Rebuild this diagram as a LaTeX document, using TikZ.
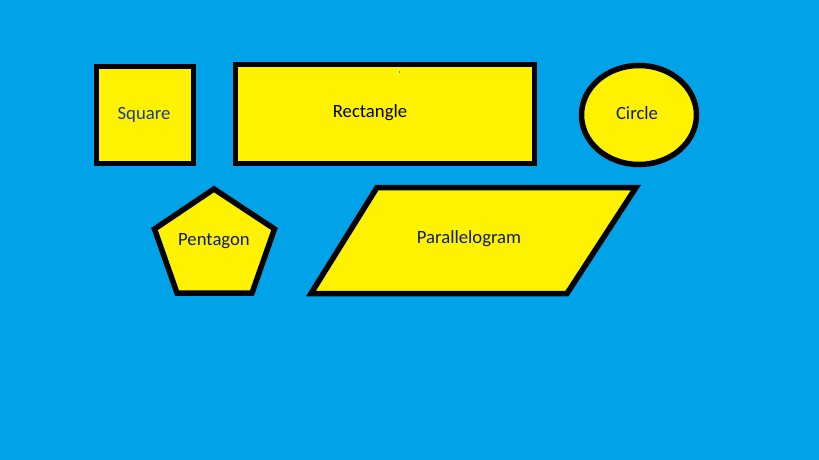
\documentclass[tikz,border=0pt]{standalone}
\usepackage{fontspec}
\setmainfont{Carlito}
\definecolor{bgblue}{HTML}{00A2E8}
\definecolor{shapeyellow}{HTML}{FFF200}
\definecolor{navytext}{HTML}{101C60}
\definecolor{sqtext}{HTML}{1A3A9C}
\begin{document}
\begin{tikzpicture}[x=1pt,y=-1pt,
  shapefill/.style={fill=shapeyellow,draw=black,line width=5.5pt,line join=miter},
  lbl/.style={inner sep=0pt,font=\fontsize{18.7}{22}\selectfont,text=navytext}]
\fill[bgblue] (0,0) rectangle (819,460);
\useasboundingbox (0,0) rectangle (819,460);
% square
\draw[shapefill] (96.5,66.5) rectangle (193.5,163.5);
% rectangle
\draw[shapefill] (235.5,64.5) rectangle (534.5,163.5);
\fill[bgblue] (398.5,71.5) rectangle (400,73);
% circle
\draw[shapefill] (639,115) ellipse [x radius=57.5,y radius=49.5];
% pentagon
\draw[shapefill] (214,189) -- (274.5,229) -- (252,293) -- (177,293) -- (154.5,229) -- cycle;
% parallelogram
\draw[shapefill] (377,187.5) -- (636,187.5) -- (567,293.5) -- (311,293.5) -- cycle;
% labels
\node[lbl,text=sqtext] (sq) at (144,114.5) {Square};
\node[lbl,text=black] (re) at (370,112.5) {Rectangle};
\node[lbl] (ci) at (637,113.5) {Circle};
\node[lbl] (pe) at (214,241.5) {Pentagon};
\node[lbl] (pa) at (469,238.5) {Parallelogram};
\end{tikzpicture}
\end{document}
